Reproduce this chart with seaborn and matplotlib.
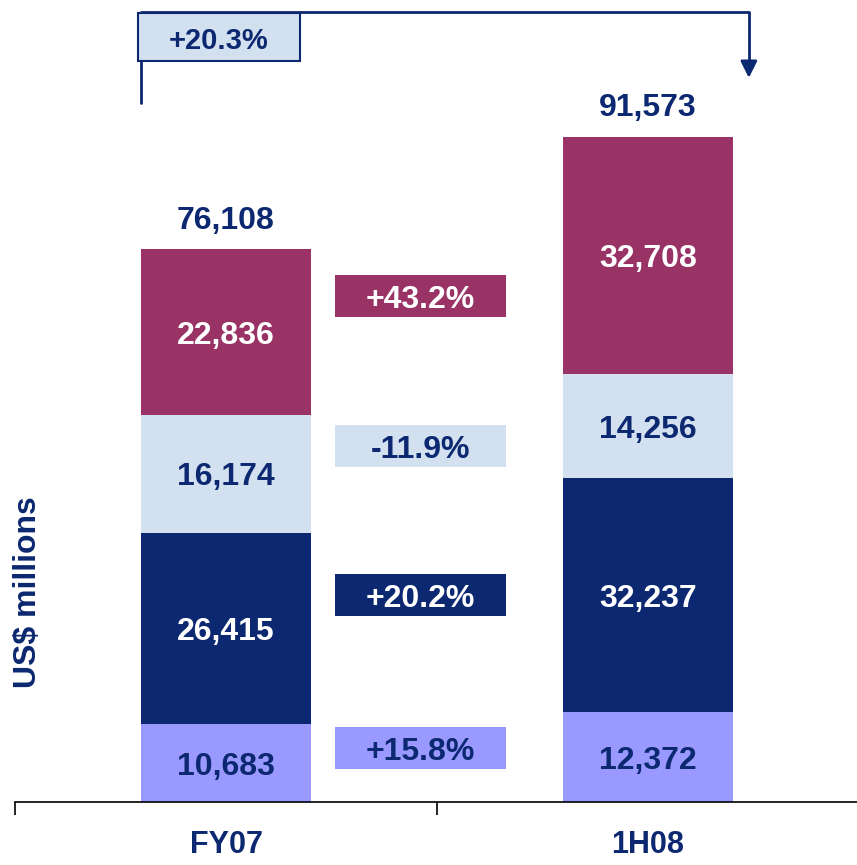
import numpy as np
import pandas as pd
import matplotlib.pyplot as plt
from matplotlib.patches import Rectangle
import seaborn as sns

# Data (US$ millions), bottom segment first
periods = ["FY07", "1H08"]
segment_names = ["Seg1", "Seg2", "Seg3", "Seg4"]
fy07_values = [10683, 26415, 16174, 22836]
h108_values = [12372, 32237, 14256, 32708]
totals = [76108, 91573]
# growth labels as printed on the chart
growth_labels = ["+15.8%", "+20.2%", "-11.9%", "+43.2%"]
total_growth = "+20.3%"

colors = ["#9999FF", "#0B2870", "#D3E0F0", "#993366"]
text_colors = ["#0B2870", "white", "#0B2870", "white"]
navy = "#0B2870"

sns.set_style("white")
plt.rcParams["font.family"] = ["Liberation Sans", "DejaVu Sans"]

fig = plt.figure(figsize=(8.57, 8.65), dpi=100)
ax = fig.add_axes([15 / 857, 63 / 865, 844 / 857, 802 / 865])

df = pd.DataFrame({"period": periods})
values = np.array([fy07_values, h108_values])
cum = np.cumsum(values, axis=1)
bar_w = 0.405

# stacked bars: draw cumulative tops from largest down
for i in range(len(segment_names) - 1, -1, -1):
    df["cum"] = cum[:, i]
    sns.barplot(data=df, x="period", y="cum", color=colors[i], width=bar_w,
                saturation=1, linewidth=0, ax=ax, zorder=2)

# segment labels
for j in range(len(periods)):
    for i in range(len(segment_names)):
        mid = cum[j, i] - values[j, i] / 2
        ax.text(j, mid, f"{values[j, i]:,}", ha="center", va="center_baseline",
                fontsize=23, fontweight="bold", color=text_colors[i], zorder=3)
    ax.text(j, totals[j] + 4400, f"{totals[j]:,}", ha="center", va="center_baseline",
            fontsize=23, fontweight="bold", color=navy)

# growth boxes between bars
box_y = [7430, 28490, 49000, 69640]
box_h = 5780
for i in range(len(segment_names)):
    ax.add_patch(Rectangle((0.46 - bar_w / 2, box_y[i] - box_h / 2), bar_w, box_h,
                           facecolor=colors[i], edgecolor="none", zorder=2))
    ax.text(0.46, box_y[i], growth_labels[i], ha="center", va="center_baseline",
            fontsize=23, fontweight="bold", color=text_colors[i], zorder=3)

# overall growth bracket
x0, x1 = -bar_w / 2, 1.239
ax.plot([x0, x0, x1, x1], [96200, 108720, 108720, 101000], color=navy, lw=2,
        clip_on=False, zorder=3)
ax.annotate("", xy=(x1, 99300), xytext=(x1, 101400),
            arrowprops=dict(arrowstyle="-|>,head_length=1.0,head_width=0.5",
                            color=navy, lw=2), annotation_clip=False)
ax.add_patch(Rectangle((-0.2085, 102000), 0.3835, 6600, facecolor="#D3E0F0",
                       edgecolor=navy, lw=1.5, zorder=4, clip_on=False))
ax.text(-0.0166, 105200, total_growth, ha="center", va="center_baseline",
        fontsize=21, fontweight="bold", color=navy, zorder=5)

ax.set_xlim(-0.5, 1.5)
ax.set_ylim(0, 110400)
ax.set_xlabel("")
ax.set_ylabel("")
ax.set_yticks([])
ax.set_xticks([0, 1])
ax.set_xticklabels(periods, fontsize=22, fontweight="bold", color=navy,
                   family=["Liberation Sans Narrow", "Liberation Sans"])
ax.set_xticks([-0.5, 0.5, 1.5], minor=True)
ax.tick_params(axis="x", which="major", length=0, pad=20)
ax.tick_params(axis="x", which="minor", bottom=True, length=9, width=1.2,
               color="black", direction="out")
for s in ["top", "left", "right"]:
    ax.spines[s].set_visible(False)
ax.spines["bottom"].set_color("black")
ax.spines["bottom"].set_linewidth(1.2)

fig.text(28 / 857, (865 - 592) / 865, "US$ millions", rotation=90, ha="center",
         va="center", fontsize=23, fontweight="bold", color=navy)

fig.savefig("out.png", dpi=100)
